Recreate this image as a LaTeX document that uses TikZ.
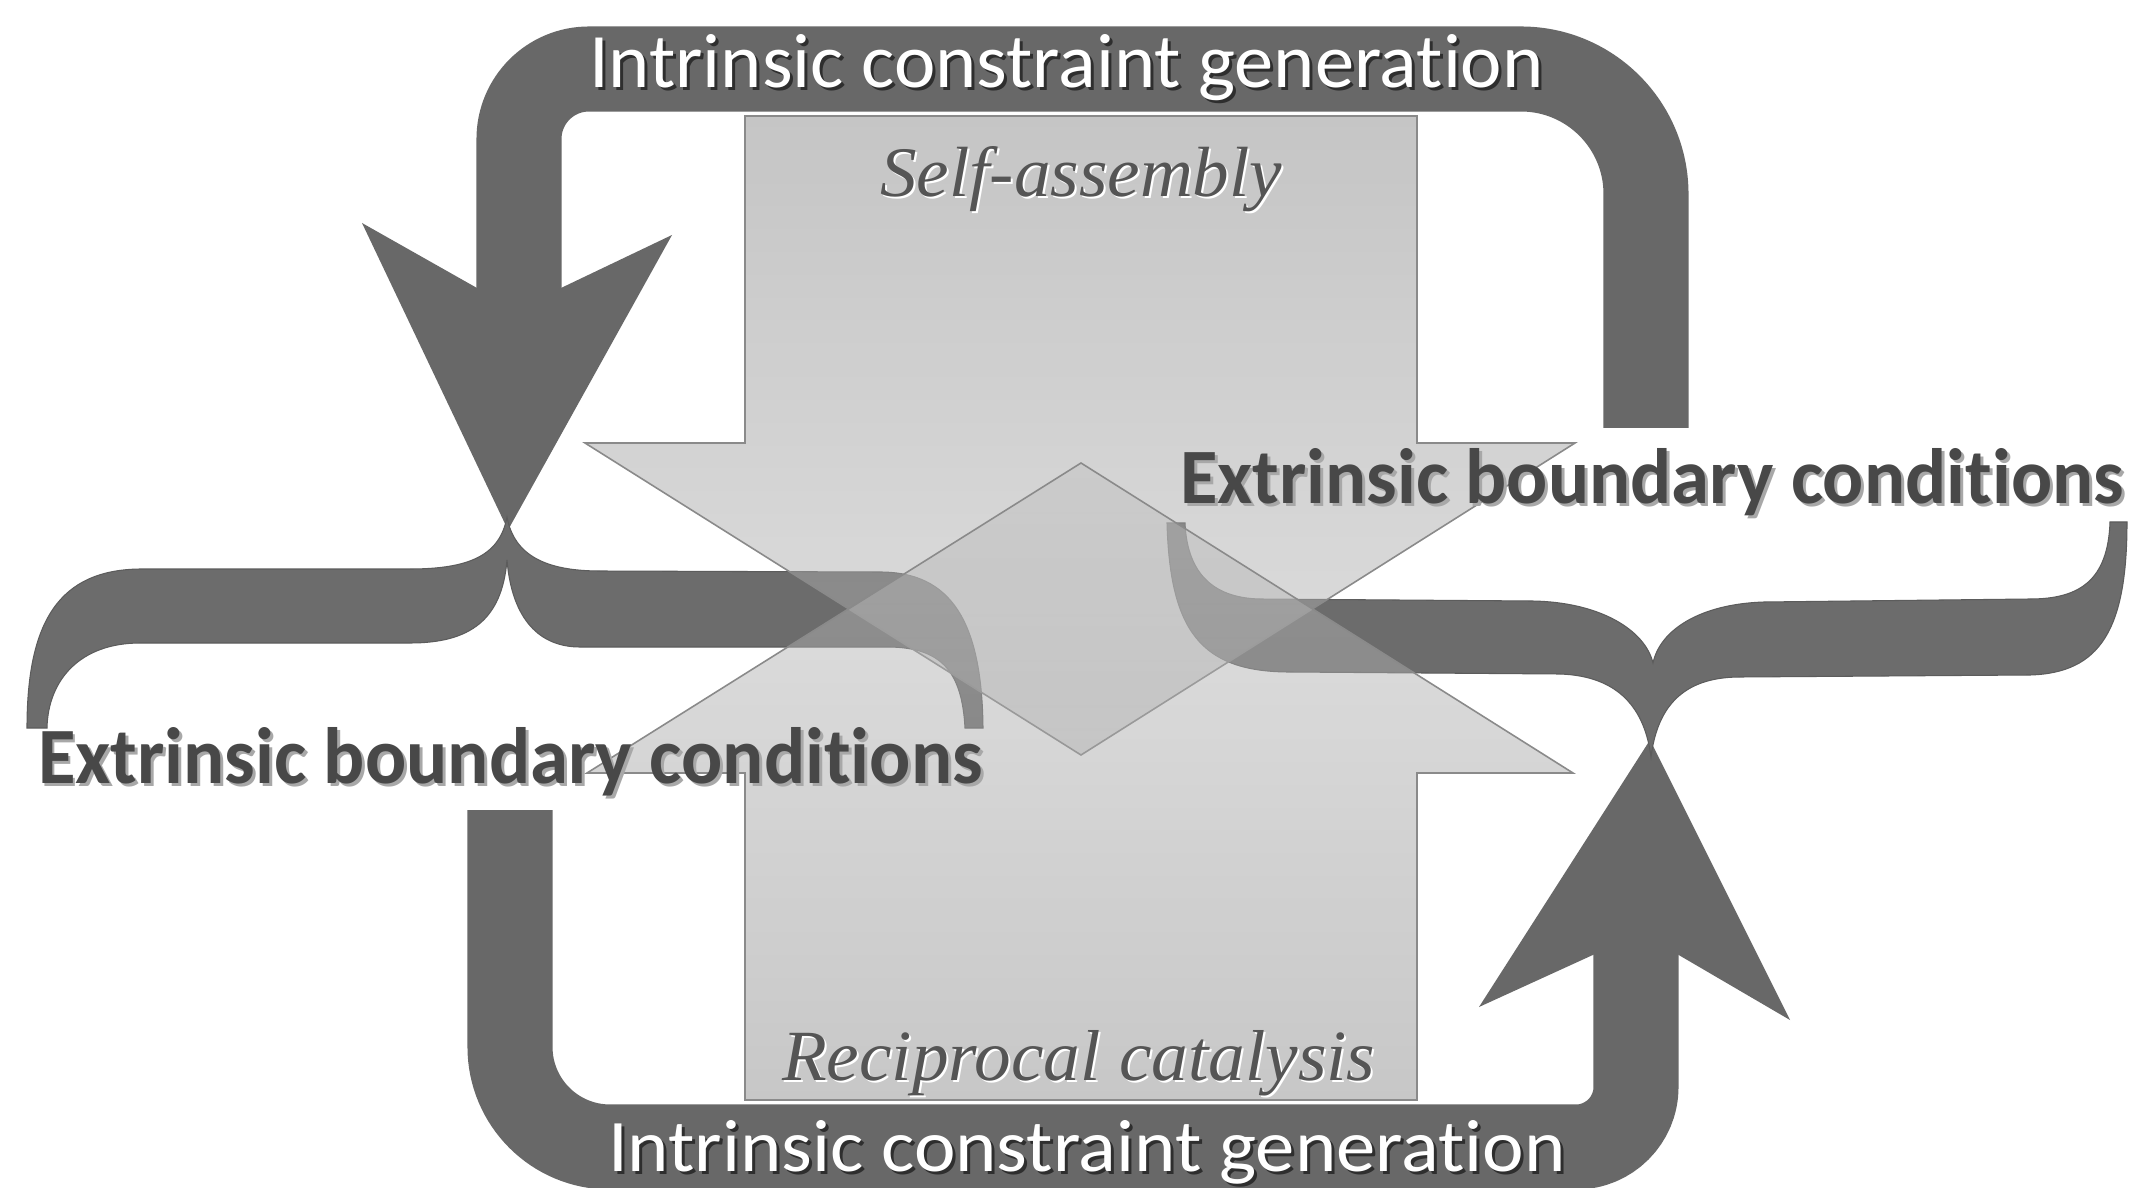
\documentclass[tikz,border=0pt]{standalone}
\usepackage{fontspec}
\usepackage{graphicx}
\newfontfamily\sansA[Ligatures=NoCommon]{Carlito}
\newfontfamily\serifA{Liberation Serif}
\definecolor{ribbon}{HTML}{686868}
\definecolor{bracecol}{HTML}{6C6C6C}
\definecolor{arrowline}{HTML}{8A8A8A}
\definecolor{extext}{HTML}{484848}
\definecolor{ittext}{HTML}{555555}
\definecolor{shadowdark}{HTML}{2E2E2E}
\definecolor{shadowlight}{HTML}{A8A8A8}
\definecolor{topA}{gray}{0.52}
\definecolor{topB}{gray}{0.74}
\definecolor{botA}{gray}{0.76}
\definecolor{botB}{gray}{0.54}
\begin{document}
\begin{tikzpicture}[x=0.01cm,y=-0.01cm,
  ribbonstyle/.style={draw=ribbon, line width=0.85cm, line cap=butt},
  headstyle/.style={fill=ribbon},
  bracestyle/.style={fill=bracecol, draw=bracecol!85!black, line width=0.3pt},
  bigarrow/.style={draw=arrowline, line width=0.45pt, fill opacity=0.47, draw opacity=1},
  lbl/.style={anchor=base west, inner sep=0pt, outer sep=0pt}]
\useasboundingbox (0,0) rectangle (2141,1188);
\fill[white] (0,0) rectangle (2141,1188);

% top ribbon (intrinsic constraint generation, top)
\draw[ribbonstyle] (519,300) -- (519,139) .. controls (519,100.3) and (550.3,69) .. (589,69)
  -- (1521,69) .. controls (1590,69) and (1646,125) .. (1646,194) -- (1646,428);
% its arrowhead pointing down
\fill[headstyle] (477,300) -- (477,288) -- (362,223) -- (508,530) -- (672,235) -- (561,288) -- (561,300) -- cycle;

% bottom ribbon
\draw[ribbonstyle] (510,810) -- (510,1047) .. controls (510,1102.2) and (554.8,1147) .. (610,1147)
  -- (1576,1147) .. controls (1609.1,1147) and (1636,1120.1) .. (1636,1087) -- (1636,945);
% its arrowhead pointing up
\fill[headstyle] (1595,962) -- (1595,954) -- (1479,1007) -- (1650,740) -- (1790,1020) -- (1677,954) -- (1677,962) -- cycle;

% left brace (cusp up)
\path[bracestyle] (27,728) .. controls (27,620) and (60,570) .. (140,569)
  -- (410,569) .. controls (470,569) and (500,555) .. (507,517)
  .. controls (514,555) and (545,571) .. (600,571)
  -- (880,572) .. controls (950,572) and (982,620) .. (983,728)
  -- (965,728) .. controls (962,670) and (940,648) .. (890,647)
  -- (580,647) .. controls (540,647) and (512,620) .. (507,560)
  .. controls (502,620) and (470,643) .. (410,643)
  -- (140,643) .. controls (80,643) and (48,680) .. (47,728) -- cycle;

% right brace (cusp down)
\path[bracestyle] (1167,523) .. controls (1170,630) and (1200,672) .. (1290,672)
  -- (1560,674) .. controls (1620,676) and (1645,710) .. (1651,757)
  .. controls (1657,710) and (1680,677) .. (1740,677)
  -- (2030,675) .. controls (2100,673) and (2127,630) .. (2127,522)
  -- (2110,522) .. controls (2108,580) and (2080,599) .. (2030,599)
  -- (1764,602) .. controls (1700,604) and (1660,630) .. (1653,663)
  .. controls (1645,630) and (1600,602) .. (1532,601)
  -- (1260,599) .. controls (1210,598) and (1187,570) .. (1185,523) -- cycle;

% big translucent arrows
\path[bigarrow, top color=topA, bottom color=topB]
  (745,116) -- (1417,116) -- (1417,443) -- (1575,443) -- (1081,755) -- (585,443) -- (745,443) -- cycle;
\path[bigarrow, top color=botA, bottom color=botB]
  (745,1100) -- (1417,1100) -- (1417,773) -- (1573,773) -- (1081,463) -- (587,773) -- (745,773) -- cycle;

% texts
\node[lbl, text=shadowdark] at (592,91) {\resizebox{9.54cm}{0.53cm}{\sansA Intrinsic constraint generation}};
\node[lbl, text=white] (topintr) at (589,88) {\resizebox{9.54cm}{0.53cm}{\sansA Intrinsic constraint generation}};

\node[lbl, text=shadowdark] at (611,1174) {\resizebox{9.57cm}{0.51cm}{\sansA Intrinsic constraint generation}};
\node[lbl, text=white] (botintr) at (608,1171) {\resizebox{9.57cm}{0.51cm}{\sansA Intrinsic constraint generation}};

\node[lbl, text=shadowlight] at (1183,506) {\resizebox{9.43cm}{0.55cm}{\sansA\bfseries Extrinsic boundary conditions}};
\node[lbl, text=extext] (rightext) at (1180,503) {\resizebox{9.43cm}{0.55cm}{\sansA\bfseries Extrinsic boundary conditions}};

\node[lbl, text=shadowlight] at (41,786) {\resizebox{9.44cm}{0.56cm}{\sansA\bfseries Extrinsic boundary conditions}};
\node[lbl, text=extext] (leftext) at (38,783) {\resizebox{9.44cm}{0.56cm}{\sansA\bfseries Extrinsic boundary conditions}};

\node[lbl, text=white] at (882,199) {\resizebox{4.02cm}{0.50cm}{\serifA\itshape Self-assembly}};
\node[lbl, text=ittext] (selfasm) at (880,197) {\resizebox{4.02cm}{0.50cm}{\serifA\itshape Self-assembly}};

\node[lbl, text=white] at (784,1082) {\resizebox{5.93cm}{0.50cm}{\serifA\itshape Reciprocal catalysis}};
\node[lbl, text=ittext] (recip) at (782,1080) {\resizebox{5.93cm}{0.50cm}{\serifA\itshape Reciprocal catalysis}};
\end{tikzpicture}
\end{document}
